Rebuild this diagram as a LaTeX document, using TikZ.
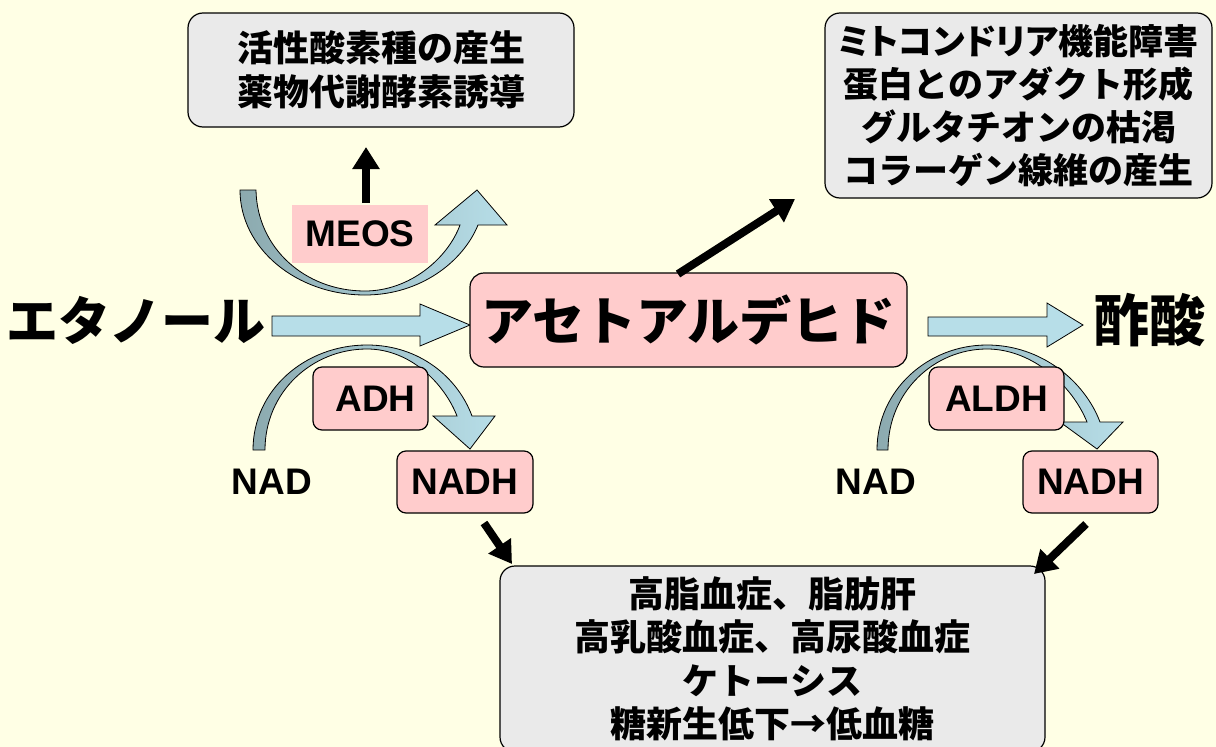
\documentclass[tikz,border=0pt]{standalone}
\usepackage{fontspec}
\setmainfont{Liberation Sans}
\newfontfamily\jp{Noto Sans CJK JP}
\newfontfamily\jpp{Noto Sans CJK JP}[RawFeature=+palt]
\usetikzlibrary{arrows.meta}
\definecolor{bg}{RGB}{255,255,229}
\definecolor{pinkf}{RGB}{255,204,204}
\definecolor{grayf}{RGB}{234,234,234}
\definecolor{lblue}{RGB}{183,222,232}
\definecolor{dblue}{RGB}{140,170,175}
\begin{document}
\begin{tikzpicture}[x=1pt,y=-1pt,
  graybox/.style={draw=black, line width=1.2pt, fill=grayf, rounded corners=15pt, inner sep=0pt, align=center},
  pinkbox/.style={draw=black, line width=1.2pt, fill=pinkf, rounded corners=9pt, inner sep=0pt},
  lbl/.style={font=\bfseries\fontsize{37}{42}\selectfont},
  jpbig/.style={font=\jp\bfseries\fontsize{52}{60}\selectfont},
  jpmid/.style={font=\jp\bfseries\fontsize{36}{43.5}\selectfont},
  arcarrow/.style={draw=black, line width=0.8pt, left color=dblue, right color=lblue},
  blockarrow/.style={draw=black, line width=0.8pt, fill=lblue},
  blk/.style={line width=8pt, -{Triangle[length=22pt,width=26pt]}}
]
\useasboundingbox (0,0) rectangle (1216,747);
\fill[bg] (0,0) rectangle (1216,747);

% curved arrows
\path[arcarrow] (240,190) .. controls (240,248) and (296,295) .. (365,295)
  .. controls (420,295) and (463,262) .. (478,225) -- (507,225) -- (477,190) -- (435,225) -- (460,225)
  .. controls (448,258) and (410,291) .. (365,291)
  .. controls (305,291) and (257,248) .. (256,190) -- cycle;
\path[arcarrow] (253,450) .. controls (253,390) and (305,345) .. (367,345)
  .. controls (420,345) and (458,378) .. (472,416) -- (495,416) -- (470,449) -- (433,416) -- (457,416)
  .. controls (444,383) and (410,349) .. (367,349)
  .. controls (312,349) and (265,392) .. (265,450) -- cycle;
\path[arcarrow] (877,450) .. controls (877,390) and (928,345) .. (987,345)
  .. controls (1042,345) and (1085,382) .. (1100,422) -- (1123,422) -- (1097,449) -- (1060,422) -- (1087,422)
  .. controls (1072,385) and (1032,349) .. (987,349)
  .. controls (934,349) and (888,392) .. (888,450) -- cycle;

% block arrows
\draw[blockarrow] (272,316) -- (420,316) -- (420,304) -- (470,325) -- (420,346) -- (420,336) -- (272,336) -- cycle;
\draw[blockarrow] (928,317) -- (1047,317) -- (1047,303) -- (1083,325) -- (1047,347) -- (1047,336) -- (928,336) -- cycle;

% boxes
\node[graybox, minimum width=386pt, minimum height=114pt, jpmid] (ros) at (381,70)
  {活性酸素種の産生\\薬物代謝酵素誘導};
\node[graybox, minimum width=387pt, minimum height=185pt, font=\jp\bfseries\fontsize{35}{43}\selectfont] (mito) at (1018.5,105.5)
  {{\jpp ミトコンドリア機能障害}\\蛋白とのアダクト形成\\グルタチオンの枯渇\\コラーゲン線維の産生};
\node[graybox, minimum width=545pt, minimum height=186pt, jpmid] (meta) at (772.5,659)
  {高脂血症、脂肪肝\\高乳酸血症、高尿酸血症\\ケトーシス\\糖新生低下→低血糖};
\node[pinkbox, rounded corners=14pt, minimum width=437pt, minimum height=94pt, jpbig] (acet) at (688.5,320) {アセトアルデヒド};

\node[fill=pinkf, inner sep=0pt, minimum width=136pt, minimum height=58pt, lbl] (meos) at (360,234) {MEOS};
\node[pinkbox, minimum width=115pt, minimum height=63pt, lbl] (adh) at (370.5,398.5) {\hspace{10pt}ADH};
\node[pinkbox, minimum width=136pt, minimum height=62pt, lbl] (nadh1) at (465,482) {NADH};
\node[pinkbox, minimum width=135pt, minimum height=63pt, lbl] (aldh) at (996.5,398.5) {ALDH};
\node[pinkbox, minimum width=135pt, minimum height=62pt, lbl] (nadh2) at (1090.5,482) {NADH};

% plain labels
\node[jpbig] (eth) at (136,320) {エタノール};
\node[jpbig, font=\jp\bfseries\fontsize{56}{64}\selectfont] (acetic) at (1149,320) {酢酸};
\node[lbl] (nad1) at (272,482) {NAD};
\node[lbl] (nad2) at (876,482) {NAD};

% black arrows
\coordinate (u0) at (366,203);
\coordinate (u1) at (366,147);
\coordinate (d0) at (678,274);
\coordinate (d1) at (795,199);
\coordinate (l0) at (484,523);
\coordinate (l1) at (512,564);
\coordinate (r0) at (1086,524);
\coordinate (r1) at (1034,574);
\draw[blk] (u0) -- (u1);
\draw[blk] (d0) -- (d1);
\draw[blk] (l0) -- (l1);
\draw[blk] (r0) -- (r1);
\end{tikzpicture}
\end{document}
